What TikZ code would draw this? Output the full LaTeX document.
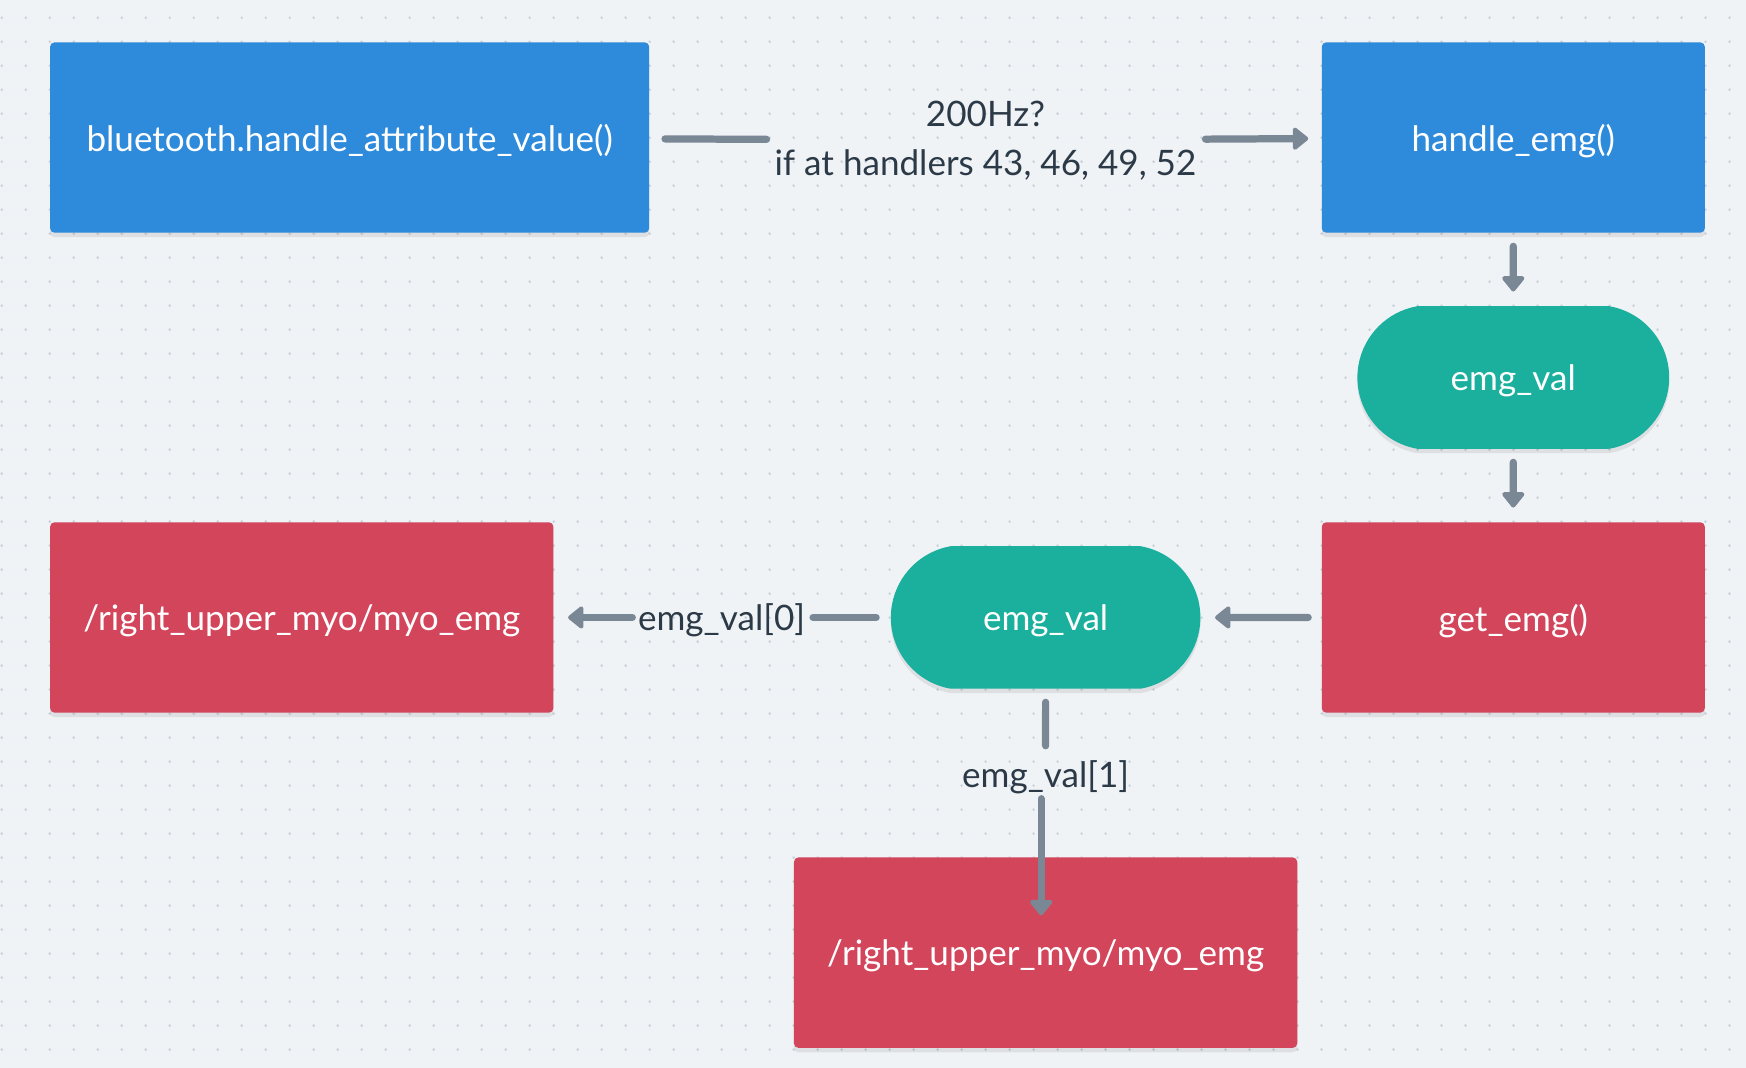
\documentclass[tikz,border=0pt]{standalone}
\usepackage{fontspec}
\setmainfont{Lato}
\usetikzlibrary{arrows.meta,shapes.misc,shadows}

\definecolor{fcbg}{HTML}{F0F3F6}
\definecolor{fcdot}{HTML}{C9D2DC}
\definecolor{fcblue}{HTML}{2E8ADA}
\definecolor{fcred}{HTML}{D2455B}
\definecolor{fcteal}{HTML}{1BAF9E}
\definecolor{fcline}{HTML}{7A8795}
\definecolor{fclabel}{HTML}{2C3A48}

\newcommand\lblfont{\fontsize{31.5}{44}\selectfont}

\tikzset{
  blkbox/.style={rectangle, rounded corners=4pt, minimum height=171pt, inner sep=0pt,
    text=white, font=\lblfont, text depth=0pt,
    drop shadow={shadow xshift=0pt, shadow yshift=-4pt, opacity=0.08, fill=black}},
  bluebox/.style={blkbox, fill=fcblue},
  redbox/.style={blkbox, fill=fcred},
  pill/.style={rounded rectangle, rounded rectangle arc length=160, fill=fcteal,
    minimum width=280pt, minimum height=128pt, inner sep=0pt, text=white, font=\lblfont,
    text depth=0pt,
    drop shadow={shadow xshift=0pt, shadow yshift=-4pt, opacity=0.08, fill=black}},
  lbl/.style={text=fclabel, inner sep=0pt, font=\lblfont, align=center},
  flow/.style={line width=6.5pt, draw=fcline, line cap=round, shorten <=12pt, shorten >=13pt},
  flowarr/.style={flow, -{Triangle[length=15pt, width=23pt, round]}}
}

\begin{document}
\begin{tikzpicture}[x=1pt, y=-1pt]

% Fond pointillé
\fill[fcbg] (0,0) rectangle (1568,959);
\useasboundingbox (0,0) rectangle (1568,959);
\foreach \i in {0,...,72}
  \foreach \j in {0,...,44}
    \fill[fcdot] (1.6+21.55*\i, 15.9+21.55*\j) circle (1.3pt);

% Reception bluetooth
\node[bluebox, minimum width=538pt] (bt) at (314,123.5) {bluetooth.handle\_attribute\_value()};
\node[bluebox, minimum width=344pt] (hemg) at (1359,123.5) {handle\_emg()};
\node[lbl] (hz) at (885,126) {200Hz?\\if at handlers 43, 46, 49, 52};

\draw[flow, shorten <=14pt, shorten >=7pt] (bt) -- (hz);
\draw[flowarr, shorten <=8pt, shorten >=12pt] (hz) -- (hemg);

% Traitement emg
\node[pill] (val1) at (1359,339) {emg\_val};
\node[redbox, minimum width=344pt] (gemg) at (1359,554.5) {get\_emg()};
\node[pill, minimum width=278pt] (val2) at (939,554.5) {emg\_val};

\draw[flowarr] (hemg) -- (val1);
\draw[flowarr] (val1) -- (gemg);
\draw[flowarr] (gemg) -- (val2);

% Topics publiés
\node[redbox, minimum width=452pt] (pub0) at (271,554.5) {/right\_upper\_myo/myo\_emg};
\node[redbox, minimum width=452pt] (pub1) at (939,855.5) {/right\_upper\_myo/myo\_emg};
\node[lbl, text depth=0pt] (idx0) at (648,554.5) {emg\_val[0]};
\node[lbl, text depth=0pt] (idx1) at (939,695) {emg\_val[1]};
\coordinate (tip1) at (935,822);

\draw[flow, shorten <=13pt, shorten >=7pt] (val2) -- (idx0);
\draw[flowarr, shorten <=5pt] (idx0) -- (pub0);
\draw[flow, shorten >=13pt] (val2) -- (idx1);
\draw[flowarr, shorten <=10pt, shorten >=0pt] (tip1 |- idx1.south) -- (tip1);

\end{tikzpicture}
\end{document}
